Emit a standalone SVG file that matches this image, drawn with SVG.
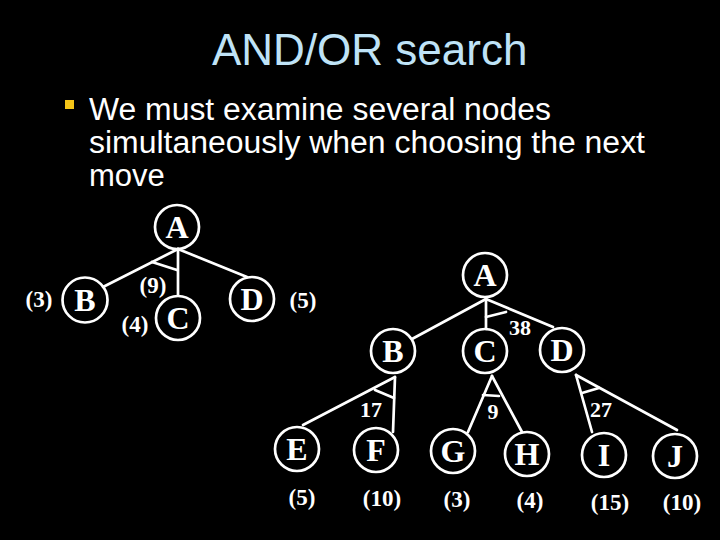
<svg xmlns="http://www.w3.org/2000/svg" width="720" height="540" viewBox="0 0 720 540">
<style>
.bg{fill:#000}
.title{font-family:"Liberation Sans",Arial,sans-serif;font-size:44px;fill:#bfe3f7}
.body{font-family:"Liberation Sans",Arial,sans-serif;font-size:31px;fill:#fff}
.node circle{fill:none;stroke:#fff;stroke-width:2.7}
.node text{font-family:"Liberation Serif","Times New Roman",serif;font-weight:bold;font-size:32px;fill:#fff;text-anchor:middle}
.lbl{font-family:"Liberation Serif","Times New Roman",serif;font-weight:bold;font-size:23px;fill:#fff;text-anchor:middle}
.num{font-family:"Liberation Serif","Times New Roman",serif;font-weight:bold;font-size:22px;fill:#fff;text-anchor:middle}
.edges line{stroke:#fff;stroke-width:2.7;stroke-linecap:round}
</style>
<rect class="bg" x="0" y="0" width="720" height="540"/>
<text class="title" x="212" y="65">AND/OR search</text>
<rect x="65" y="100" width="9" height="9" fill="#f5c518"/>
<text class="body" x="89" y="120" textLength="462" lengthAdjust="spacingAndGlyphs">We must examine several nodes</text>
<text class="body" x="89" y="153" textLength="556" lengthAdjust="spacingAndGlyphs">simultaneously when choosing the next</text>
<text class="body" x="89" y="186">move</text>

<g id="connectors" class="edges">
<line x1="178" y1="249" x2="103" y2="287"/>
<line x1="178" y1="249" x2="178" y2="295"/>
<line x1="178" y1="249" x2="247" y2="277"/>
<line x1="152" y1="262" x2="177" y2="270"/>

<line x1="486" y1="299" x2="412" y2="339"/>
<line x1="486" y1="299" x2="486" y2="329"/>
<line x1="486" y1="299" x2="553" y2="327"/>
<line x1="486" y1="317" x2="506" y2="312"/>

<line x1="395" y1="377" x2="303" y2="425"/>
<line x1="395" y1="377" x2="393" y2="432"/>
<line x1="375" y1="390" x2="394" y2="398"/>

<line x1="492" y1="376" x2="468" y2="432"/>
<line x1="492" y1="376" x2="522" y2="432"/>
<line x1="483" y1="395" x2="499" y2="396"/>

<line x1="576" y1="375" x2="592" y2="432"/>
<line x1="576" y1="375" x2="677" y2="430"/>
<line x1="582" y1="393" x2="599" y2="388"/>
</g>

<g id="n1A" class="node"><circle cx="177" cy="227" r="22"/><text x="177" y="238">A</text></g>
<g id="n1B" class="node"><circle cx="85" cy="300" r="22.5"/><text x="85" y="311">B</text></g>
<g id="n1C" class="node"><circle cx="178" cy="318" r="22"/><text x="178" y="329">C</text></g>
<g id="n1D" class="node"><circle cx="252" cy="299" r="22"/><text x="252" y="310">D</text></g>
<text class="lbl" x="39" y="307">(3)</text>
<text class="lbl" x="153" y="293">(9)</text>
<text class="lbl" x="135" y="332">(4)</text>
<text class="lbl" x="303" y="308">(5)</text>

<g id="n2A" class="node"><circle cx="485" cy="275" r="22"/><text x="485" y="286">A</text></g>
<g id="n2B" class="node"><circle cx="393" cy="351" r="22"/><text x="393" y="362">B</text></g>
<g id="n2C" class="node"><circle cx="485" cy="351" r="22"/><text x="485" y="362">C</text></g>
<g id="n2D" class="node"><circle cx="562" cy="350" r="22"/><text x="562" y="361">D</text></g>
<g id="n2E" class="node"><circle cx="297" cy="449" r="22"/><text x="297" y="460">E</text></g>
<g id="n2F" class="node"><circle cx="376" cy="450" r="22"/><text x="376" y="461">F</text></g>
<g id="n2G" class="node"><circle cx="453" cy="451" r="22"/><text x="453" y="462">G</text></g>
<g id="n2H" class="node"><circle cx="527" cy="454" r="22"/><text x="527" y="465">H</text></g>
<g id="n2I" class="node"><circle cx="604" cy="455" r="22"/><text x="604" y="466">I</text></g>
<g id="n2J" class="node"><circle cx="675" cy="456" r="22"/><text x="675" y="467">J</text></g>

<text class="num" x="520" y="335">38</text>
<text class="num" x="371" y="417">17</text>
<text class="num" x="493" y="419">9</text>
<text class="num" x="601" y="417">27</text>

<text class="lbl" x="302" y="505">(5)</text>
<text class="lbl" x="382" y="506">(10)</text>
<text class="lbl" x="457" y="507">(3)</text>
<text class="lbl" x="530" y="508">(4)</text>
<text class="lbl" x="610" y="510">(15)</text>
<text class="lbl" x="682" y="510">(10)</text>
</svg>
